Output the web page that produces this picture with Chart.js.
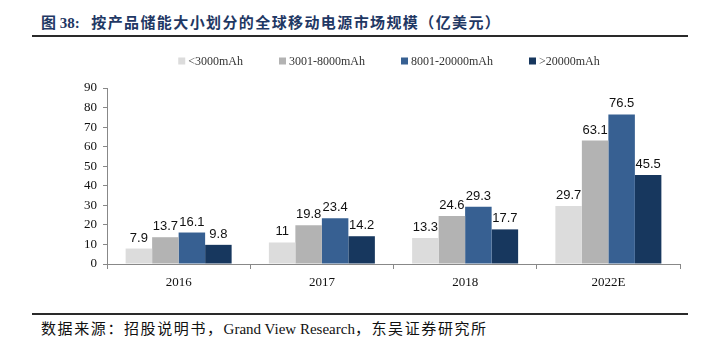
<!DOCTYPE html>
<html>
<head>
<meta charset="utf-8">
<script src="https://cdn.jsdelivr.net/npm/chart.js@4"></script>
<style>
  body { margin: 0; background: #fff; width: 707px; height: 339px; position: relative; overflow: hidden; }
  #title { position: absolute; left: 41px; top: 11px; line-height: 20px; font: bold 15px "Liberation Serif", "Noto Sans CJK SC", serif; color: #1F3864; white-space: nowrap; }
  #title .cn { letter-spacing: 1.4px; margin-left: 4px; }
  .rule { position: absolute; left: 32px; width: 656px; background: #2a2a2a; }
  #foot { position: absolute; left: 41px; top: 317px; line-height: 20px; font: 15px "Liberation Serif", "Noto Sans CJK SC", serif; color: #111; white-space: nowrap; }
  #foot .cn { letter-spacing: 1.6px; }
  #wrap { position: absolute; left: 0; top: 40px; width: 707px; height: 260px; }
</style>
</head>
<body>
<div id="title">图 38:&nbsp;&nbsp;<span class="cn">按产品储能大小划分的全球移动电源市场规模（亿美元）</span></div>
<div class="rule" style="top:35px;height:2px"></div>
<div id="wrap"><canvas id="chart"></canvas></div>
<div class="rule" style="top:313px;height:2px"></div>
<div id="foot"><span class="cn">数据来源：招股说明书，</span>Grand View Research<span class="cn">，东吴证券研究所</span></div>
<script>
const years = ["2016", "2017", "2018", "2022E"];
const seriesNames = ["<3000mAh", "3001-8000mAh", "8001-20000mAh", ">20000mAh"];
const below3000 = [7.9, 11, 13.3, 29.7];
const from3001to8000 = [13.7, 19.8, 24.6, 63.1];
const from8001to20000 = [16.1, 23.4, 29.3, 76.5];
const above20000 = [9.8, 14.2, 17.7, 45.5];
const seriesColors = ["#DCDCDC", "#B3B3B3", "#376092", "#17375E"];

const allSeries = [below3000, from3001to8000, from8001to20000, above20000];

// labels above each bar
const barLabels = {
  id: "barLabels",
  afterDatasetsDraw(chart) {
    const ctx = chart.ctx;
    ctx.save();
    ctx.font = "13px 'Liberation Sans', Arial, sans-serif";
    ctx.fillStyle = "#111";
    ctx.textAlign = "center";
    ctx.textBaseline = "alphabetic";
    chart.data.datasets.forEach((ds, i) => {
      chart.getDatasetMeta(i).data.forEach((bar, j) => {
        ctx.fillText(String(ds.data[j]), bar.x, bar.y - 7);
      });
    });
    ctx.restore();
  }
};

// legend row drawn by hand so it can sit centred over the plot
const legendRow = {
  id: "legendRow",
  afterDraw(chart) {
    const ctx = chart.ctx;
    const box = 7, gapText = 3, gapItem = 36, cy = 21;
    ctx.save();
    ctx.font = "12px 'Liberation Serif', serif";
    ctx.textBaseline = "middle";
    const items = chart.data.datasets.map(ds => ({
      text: ds.label, color: ds.backgroundColor, w: ctx.measureText(ds.label).width
    }));
    const total = items.reduce((s, it) => s + box + gapText + it.w, 0) + gapItem * (items.length - 1);
    let x = 389 - total / 2;
    items.forEach(it => {
      ctx.fillStyle = it.color;
      ctx.fillRect(x, cy - box / 2, box, box);
      ctx.fillStyle = "#333";
      ctx.fillText(it.text, x + box + gapText, cy + 1);
      x += box + gapText + it.w + gapItem;
    });
    ctx.restore();
  }
};

new Chart(document.getElementById("chart"), {
  type: "bar",
  data: {
    labels: years,
    datasets: allSeries.map((vals, i) => ({
      label: seriesNames[i],
      data: vals,
      backgroundColor: seriesColors[i],
      borderWidth: 0,
      categoryPercentage: 0.74,
      barPercentage: 1.0
    }))
  },
  options: {
    responsive: true,
    maintainAspectRatio: false,
    animation: false,
    layout: { padding: { left: 0, right: 27, top: 48, bottom: 0 } },
    plugins: {
      legend: { display: false },
      tooltip: { enabled: false }
    },
    scales: {
      x: {
        grid: { drawOnChartArea: false, drawTicks: true, tickLength: 5, color: "#888" },
        border: { color: "#888" },
        ticks: { color: "#111", padding: 6, font: { family: "'Liberation Serif', serif", size: 13 } },
        afterFit: s => { s.height = 36; }
      },
      y: {
        min: 0,
        max: 90,
        ticks: { stepSize: 10, color: "#111", padding: 6, autoSkip: false, font: { family: "'Liberation Serif', serif", size: 13 } },
        grid: { drawOnChartArea: false, drawTicks: true, tickLength: 4, color: "#888" },
        border: { color: "#888" },
        afterFit: s => { s.width = 107; }
      }
    }
  },
  plugins: [barLabels, legendRow]
});
</script>
</body>
</html>
